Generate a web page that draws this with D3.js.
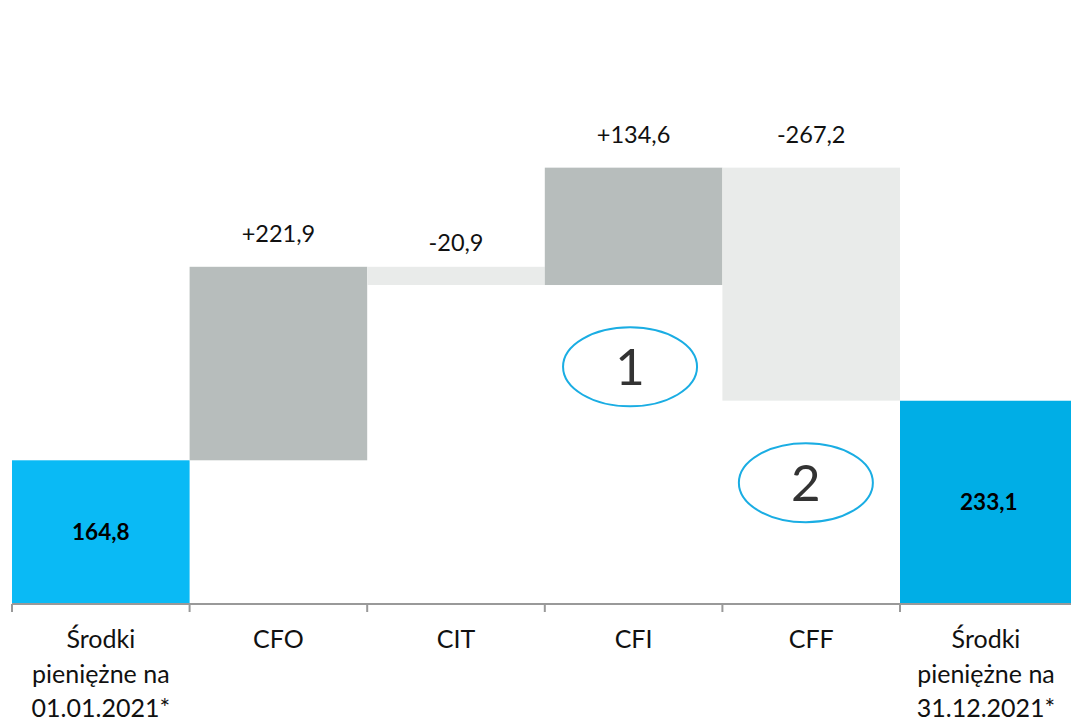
<!DOCTYPE html>
<html>
<head>
<meta charset="utf-8">
<style>
  body { margin: 0; background: #fff; }
  text { font-family: Lato, "Open Sans", sans-serif; }
</style>
</head>
<body>
<svg id="chart" width="1071" height="724"></svg>
<script src="https://cdnjs.cloudflare.com/ajax/libs/d3/7.8.5/d3.min.js"></script>
<script>
  // categories and values (mln PLN)
  const categories = ['start', 'CFO', 'CIT', 'CFI', 'CFF', 'end'];
  const categoryLines = [
    ['Środki', 'pieniężne na', '01.01.2021*'],
    ['CFO'],
    ['CIT'],
    ['CFI'],
    ['CFF'],
    ['Środki', 'pieniężne na', '31.12.2021*']
  ];
  const values = [164.8, 221.9, -20.9, 134.6, -267.2, 233.1];
  const kinds = ['total', 'delta', 'delta', 'delta', 'delta', 'total'];
  const valueLabels = ['164,8', '+221,9', '-20,9', '+134,6', '-267,2', '233,1'];

  // numbered markers: [category, value at centre, offset within band (0..1)]
  const markers = [
    {text: '1', cat: 'CFI', value: 272, pos: 0.48},
    {text: '2', cat: 'CFF', value: 139, pos: 0.47}
  ];

  const svg = d3.select('#chart');
  const axisY = 604;

  const xScale = d3.scaleBand()
                   .domain(categories)
                   .range([12, 12 + 177.6 * categories.length])
                   .padding(0);
  const yScale = d3.scaleLinear()
                   .domain([0, 600])
                   .range([axisY, axisY - 600 * 0.872]);

  // build waterfall steps
  let running = 0;
  const steps = categories.map((c, i) => {
    let lo, hi;
    if (kinds[i] === 'total') {
      lo = 0; hi = values[i]; running = values[i];
    } else {
      const prev = running;
      running += values[i];
      lo = Math.min(prev, running); hi = Math.max(prev, running);
    }
    return {cat: c, lo, hi, v: values[i], kind: kinds[i], label: valueLabels[i], i};
  });

  const fillFor = d => {
    if (d.i === 0) return '#0ABAF5';
    if (d.kind === 'total') return '#00AEE6';
    return d.v >= 0 ? '#B7BDBC' : '#E9EBEA';
  };

  // bars
  svg.append('g')
     .selectAll('rect')
     .data(steps)
     .enter()
     .append('rect')
     .attr('x', d => xScale(d.cat))
     .attr('width', xScale.bandwidth())
     .attr('y', d => yScale(d.hi))
     .attr('height', d => yScale(d.lo) - yScale(d.hi))
     .attr('fill', fillFor);

  // labels above delta bars
  svg.append('g')
     .selectAll('text')
     .data(steps.filter(d => d.kind === 'delta'))
     .enter()
     .append('text')
     .attr('x', d => xScale(d.cat) + xScale.bandwidth() / 2)
     .attr('y', d => yScale(d.hi) - (d.v < 0 && Math.abs(d.v) < 50 ? 16 : 25))
     .attr('text-anchor', 'middle')
     .attr('font-size', 23.5)
     .attr('fill', '#111')
     .text(d => d.label);

  // labels inside total bars
  svg.append('g')
     .selectAll('text')
     .data(steps.filter(d => d.kind === 'total'))
     .enter()
     .append('text')
     .attr('x', d => xScale(d.cat) + xScale.bandwidth() / 2)
     .attr('y', d => (yScale(d.hi) + yScale(d.lo)) / 2)
     .attr('dy', '0.35em')
     .attr('text-anchor', 'middle')
     .attr('font-size', 22.5)
     .attr('font-weight', 'bold')
     .attr('fill', '#000')
     .text(d => d.label);

  // x axis: baseline and boundary ticks
  const axis = svg.append('g');
  axis.append('line')
      .attr('x1', xScale.range()[0]).attr('x2', xScale.range()[1])
      .attr('y1', axisY).attr('y2', axisY)
      .attr('stroke', '#999').attr('stroke-width', 2);
  axis.selectAll('.tick')
      .data(categories.map(c => xScale(c)).concat([xScale.range()[1]]))
      .enter()
      .append('line')
      .attr('class', 'tick')
      .attr('x1', d => d).attr('x2', d => d)
      .attr('y1', axisY).attr('y2', axisY + 8)
      .attr('stroke', '#999').attr('stroke-width', 2);

  // category labels
  const catLabel = axis.selectAll('.cat')
      .data(categories)
      .enter()
      .append('text')
      .attr('class', 'cat')
      .attr('text-anchor', 'middle')
      .attr('font-size', 25)
      .attr('fill', '#111');
  catLabel.each(function (c, i) {
    const cx = i === categories.length - 1 ? 986 : xScale(c) + xScale.bandwidth() / 2;
    d3.select(this).selectAll('tspan')
      .data(categoryLines[i])
      .enter()
      .append('tspan')
      .attr('x', cx)
      .attr('y', (d, j) => 648 + j * 34.5)
      .text(d => d);
  });

  // numbered markers
  const mk = svg.append('g')
     .selectAll('g')
     .data(markers)
     .enter()
     .append('g')
     .attr('transform', d => `translate(${xScale(d.cat) + xScale.bandwidth() * d.pos}, ${yScale(d.value)})`);
  mk.append('ellipse')
    .attr('rx', 67).attr('ry', 39.5)
    .attr('fill', 'none')
    .attr('stroke', '#1AADE3')
    .attr('stroke-width', 2);
  mk.append('text')
    .attr('text-anchor', 'middle')
    .attr('dy', '0.36em')
    .attr('font-size', 51)
    .attr('fill', '#333')
    .text(d => d.text);
</script>
</body>
</html>
